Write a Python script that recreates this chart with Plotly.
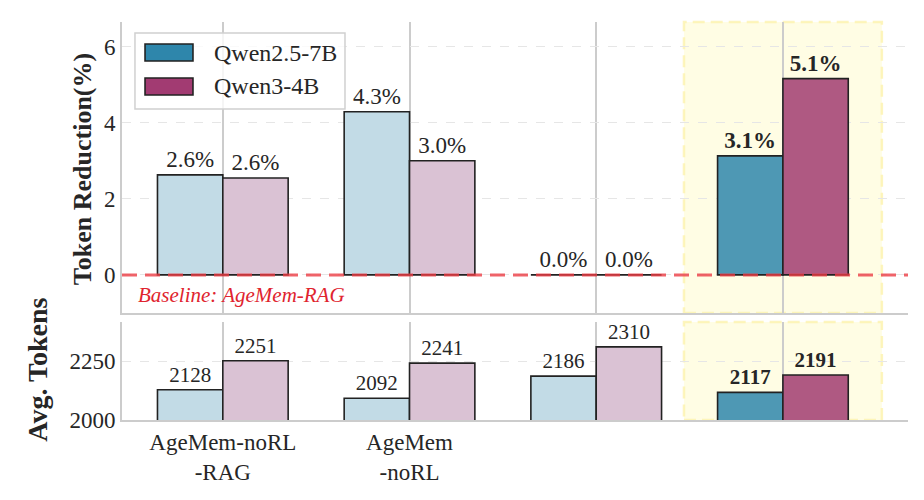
import plotly.graph_objects as go

# ---------------- data ----------------
x_idx = [0, 1, 2, 3]
tick_labels = ["AgeMem-noRL<br>-RAG", "AgeMem<br>-noRL", "", ""]
series_names = ["Qwen2.5-7B", "Qwen3-4B"]
reduction_q25 = [2.63, 4.29, 0.0, 3.13]
reduction_q3 = [2.55, 3.00, 0.0, 5.16]
reduction_labels_q25 = ["2.6%", "4.3%", "0.0%", "3.1%"]
reduction_labels_q3 = ["2.6%", "3.0%", "0.0%", "5.1%"]
tokens_q25 = [2128, 2092, 2186, 2117]
tokens_q3 = [2251, 2241, 2310, 2191]
highlight_idx = 3
baseline_value = 0
baseline_label = "Baseline: AgeMem-RAG"

# ---------------- style ----------------
FONT = "Liberation Serif, Times New Roman, serif"
legend_color = {"Qwen2.5-7B": "rgb(46,134,171)", "Qwen3-4B": "rgb(162,59,114)"}
light_color = {"Qwen2.5-7B": "rgb(194,219,230)", "Qwen3-4B": "rgb(218,194,212)"}
strong_color = {"Qwen2.5-7B": "rgb(78,152,180)", "Qwen3-4B": "rgb(175,89,130)"}
EDGE = "#222222"
SPINE = "#cccccc"


def bar_colors(name):
    return [strong_color[name] if i == highlight_idx else light_color[name] for i in x_idx]


def bold_hi(labels):
    return [f"<b>{t}</b>" if i == highlight_idx else t for i, t in enumerate(labels)]


fig = go.Figure()

top_sets = [(series_names[0], reduction_q25, reduction_labels_q25),
            (series_names[1], reduction_q3, reduction_labels_q3)]
bot_sets = [(series_names[0], tokens_q25), (series_names[1], tokens_q3)]

for k, (name, vals, labs) in enumerate(top_sets):
    fig.add_trace(go.Bar(
        x=x_idx, y=vals, name=name, offsetgroup=str(k),
        marker=dict(color=bar_colors(name), line=dict(color=EDGE, width=1.6)),
        text=bold_hi(labs), textposition="outside", cliponaxis=False,
        textfont=dict(family=FONT, size=23, color="#262626"),
        constraintext="none", showlegend=False,
        xaxis="x", yaxis="y",
    ))

for k, (name, vals) in enumerate(bot_sets):
    fig.add_trace(go.Bar(
        x=x_idx, y=vals, name=name, offsetgroup=str(k),
        marker=dict(color=bar_colors(name), line=dict(color=EDGE, width=1.6)),
        text=bold_hi([str(v) for v in vals]), textposition="outside", cliponaxis=False,
        textfont=dict(family=FONT, size=21, color="#262626"),
        constraintext="none", showlegend=False,
        xaxis="x2", yaxis="y2",
    ))

axis_common = dict(showline=True, linecolor=SPINE, linewidth=2, mirror=False,
                   zeroline=False, ticks="", automargin=False,
                   tickfont=dict(family=FONT, size=23, color="#262626"))

# page body has an 8px margin: size the figure so the plot area lands where the reference has it
fig.update_layout(
    width=908, height=484,
    margin=dict(l=114, r=8, t=14, b=72),
    paper_bgcolor="white", plot_bgcolor="white",
    barmode="group", bargap=0.3, bargroupgap=0,
    font=dict(family=FONT, color="#262626"),
    xaxis=dict(domain=[0, 1], anchor="y", range=[-0.54, 3.67], tickvals=x_idx,
               showticklabels=False, showgrid=True, gridcolor=SPINE, gridwidth=1.5,
               **axis_common),
    xaxis2=dict(domain=[0, 1], anchor="y2", range=[-0.54, 3.67], tickvals=x_idx,
                ticktext=tick_labels, showgrid=True, gridcolor=SPINE, gridwidth=1.5,
                **axis_common),
    yaxis=dict(domain=[0.269, 1], anchor="x", range=[-1, 6.65], tickvals=[0, 2, 4, 6],
               showgrid=True, gridcolor="#e6e6e6", griddash="dash", gridwidth=1,
               **axis_common),
    yaxis2=dict(domain=[0, 0.246], anchor="x2", range=[2000, 2415], tickvals=[2000, 2250],
                showgrid=True, gridcolor="#e6e6e6", griddash="dash", gridwidth=1,
                **axis_common),
)

# highlight region in both panels
for xr, yr in (("x", "y domain"), ("x2", "y2 domain")):
    fig.add_shape(type="rect", xref=xr, yref=yr,
                  x0=highlight_idx - 0.53, x1=highlight_idx + 0.53, y0=0, y1=1,
                  fillcolor="rgb(255,253,228)",
                  line=dict(color="rgba(252,242,170,0.75)", width=2.5, dash="12px,6px"),
                  layer="below")

# baseline dashed line
fig.add_shape(type="line", xref="x domain", yref="y", x0=0, x1=1,
              y0=baseline_value, y1=baseline_value,
              line=dict(color="rgba(235,60,68,0.8)", width=3, dash="15px,8px"),
              layer="above")
fig.add_annotation(xref="x domain", yref="y", x=0.018, y=-0.52, xanchor="left",
                   yanchor="middle", showarrow=False, text=baseline_label,
                   font=dict(family=FONT, size=21, color="#e0242e", style="italic"))

# axis titles
fig.add_annotation(xref="paper", yref="paper", x=-0.051, y=0.63, textangle=-90,
                   showarrow=False, xanchor="center", yanchor="middle",
                   text="<b>Token Reduction(%)</b>",
                   font=dict(family=FONT, size=26, color="#262626"))
fig.add_annotation(xref="paper", yref="paper", x=-0.107, y=0.126, textangle=-90,
                   showarrow=False, xanchor="center", yanchor="middle",
                   text="<b>Avg. Tokens</b>",
                   font=dict(family=FONT, size=28, color="#262626"))

# legend (drawn manually for matplotlib-like swatches)
fig.add_shape(type="rect", xref="paper", yref="paper", x0=0.0165, x1=0.2837,
              y0=0.7814, y1=0.9724, fillcolor="rgba(255,255,255,0.8)",
              line=dict(color="#d0d0d0", width=1.5), layer="above")
swatch_y = [(0.9020, 0.9447), (0.8166, 0.8593)]
for (name, (y0, y1)) in zip(series_names, swatch_y):
    fig.add_shape(type="rect", xref="paper", yref="paper", x0=0.0293, x1=0.0903,
                  y0=y0, y1=y1, fillcolor=legend_color[name],
                  line=dict(color=EDGE, width=1.6), layer="above")
    fig.add_annotation(xref="paper", yref="paper", x=0.1145, y=(y0 + y1) / 2,
                       xanchor="left", yanchor="middle", showarrow=False, text=name,
                       font=dict(family=FONT, size=24, color="#262626"))

fig.write_html("out.html")
